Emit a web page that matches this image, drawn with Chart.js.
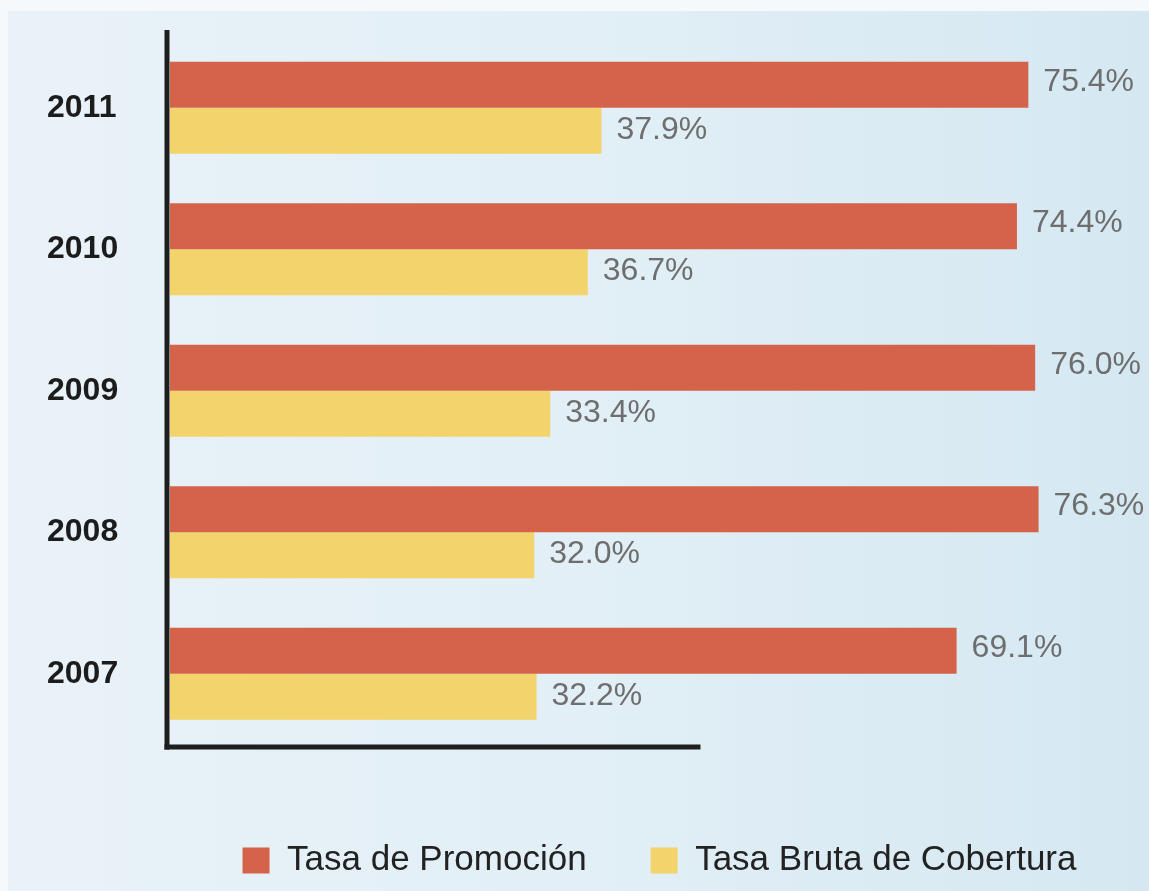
<!DOCTYPE html>
<html>
<head>
<meta charset="utf-8">
<script src="https://cdn.jsdelivr.net/npm/chart.js@4.4.1/dist/chart.umd.min.js"></script>
<style>
  html, body { margin: 0; padding: 0; }
  body { width: 1149px; height: 891px; background: #f5f9fc; position: relative; overflow: hidden; }
  #panel { position: absolute; left: 8px; top: 11px; width: 1141px; height: 880px;
           background: linear-gradient(to right, #e9f2f8 0%, #e2eff6 50%, #d5e8f2 100%); }
  #wrap { position: absolute; left: 0; top: 0; width: 1149px; height: 891px; }
</style>
</head>
<body>
<div id="panel"></div>
<div id="wrap"><canvas id="c" width="1149" height="891"></canvas></div>
<script>
const years = ['2011', '2010', '2009', '2008', '2007'];
const tasaPromocion = [75.4, 74.4, 76.0, 76.3, 69.1];
const tasaBrutaCobertura = [37.9, 36.7, 33.4, 32.0, 32.2];
const seriesNames = ['Tasa de Promoción', 'Tasa Bruta de Cobertura'];

const SANS = '"Liberation Sans", Arial, Helvetica, sans-serif';

const valueLabels = {
  id: 'valueLabels',
  afterDatasetsDraw(chart) {
    const ctx = chart.ctx;
    ctx.save();
    ctx.font = '32px ' + SANS;
    ctx.fillStyle = '#6e6e6e';
    ctx.textAlign = 'left';
    ctx.textBaseline = 'middle';
    chart.data.datasets.forEach((ds, di) => {
      const meta = chart.getDatasetMeta(di);
      const dy = di === 0 ? -3 : -1;
      meta.data.forEach((bar, i) => {
        ctx.fillText(ds.data[i].toFixed(1) + '%', bar.x + 15, bar.y + dy);
      });
    });
    ctx.restore();
  }
};

const axisLines = {
  id: 'axisLines',
  afterDatasetsDraw(chart) {
    const ctx = chart.ctx;
    const a = chart.chartArea;
    const xs = chart.scales.x;
    ctx.save();
    ctx.strokeStyle = '#1e1e1e';
    ctx.lineWidth = 5;
    ctx.lineCap = 'butt';
    ctx.beginPath();
    ctx.moveTo(a.left - 3, a.top - 7);
    ctx.lineTo(a.left - 3, a.bottom + 5);
    ctx.stroke();
    ctx.beginPath();
    ctx.moveTo(a.left - 5.5, a.bottom + 2.5);
    ctx.lineTo(xs.getPixelForValue(46.6), a.bottom + 2.5);
    ctx.stroke();
    ctx.restore();
  }
};

new Chart(document.getElementById('c'), {
  type: 'bar',
  data: {
    labels: years,
    datasets: [
      { label: seriesNames[0], data: tasaPromocion, backgroundColor: '#d4634a', borderWidth: 0 },
      { label: seriesNames[1], data: tasaBrutaCobertura, backgroundColor: '#f2d36c', borderWidth: 0 }
    ]
  },
  options: {
    indexAxis: 'y',
    responsive: false,
    animation: false,
    devicePixelRatio: 1,
    categoryPercentage: 0.65,
    barPercentage: 1.0,
    layout: { padding: { top: 37, left: 47, right: 0, bottom: 3 } },
    scales: {
      x: {
        display: true, min: 0, max: 86,
        grid: { display: false },
        border: { display: false },
        ticks: { display: false },
        afterFit(scale) { scale.height = 34.5; }
      },
      y: {
        grid: { display: false },
        border: { display: false },
        ticks: {
          padding: 0,
          crossAlign: 'far',
          color: '#1c1c1c',
          font: { family: SANS, size: 32, weight: 'bold' }
        },
        afterFit(scale) { scale.width = 123; }
      }
    },
    plugins: {
      tooltip: { enabled: false },
      legend: {
        position: 'bottom',
        fullSize: false,
        labels: {
          boxWidth: 27,
          boxHeight: 26,
          padding: 64,
          color: '#222222',
          font: { family: SANS, size: 35 }
        }
      }
    }
  },
  plugins: [valueLabels, axisLines]
});
</script>
</body>
</html>
